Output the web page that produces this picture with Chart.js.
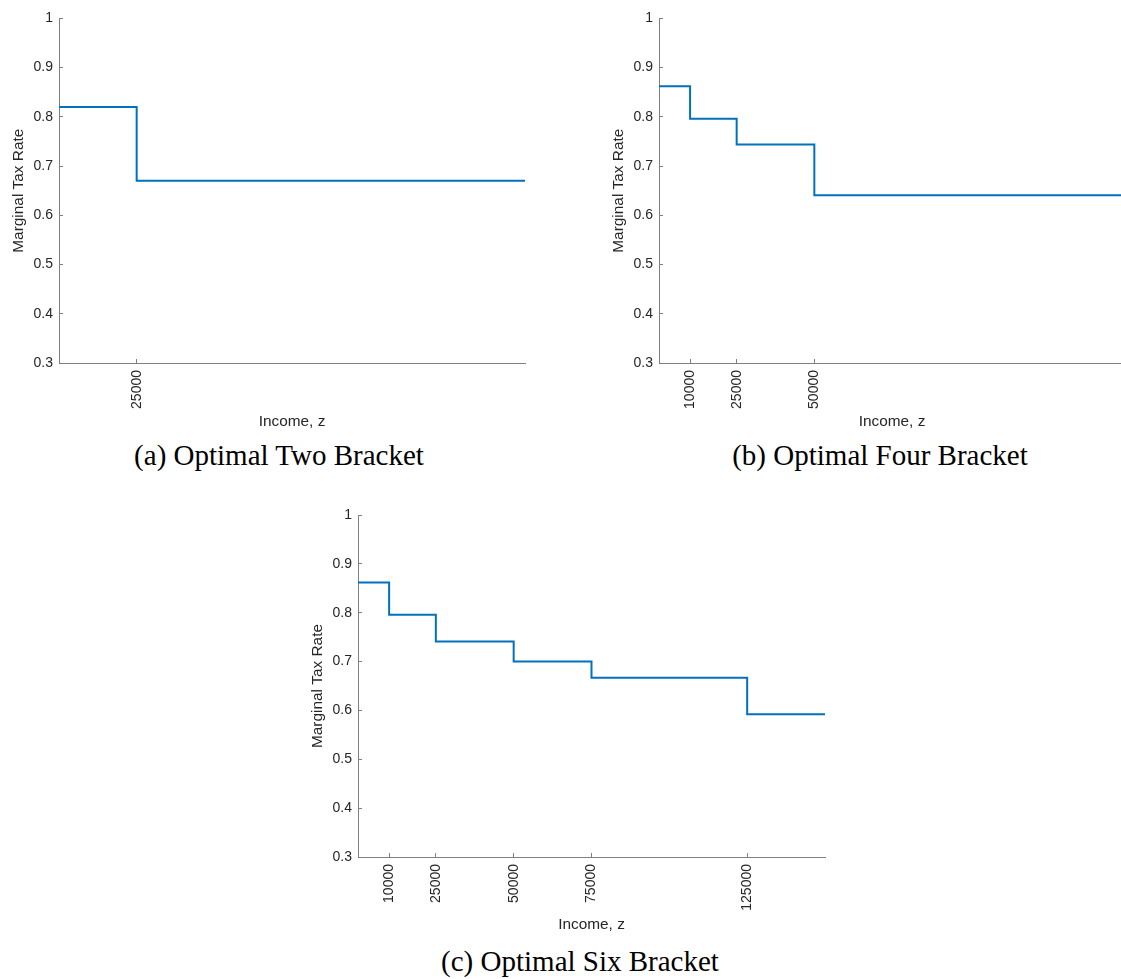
<!DOCTYPE html>
<html>
<head>
<meta charset="utf-8">
<script src="https://cdn.jsdelivr.net/npm/chart.js@4.4.0/dist/chart.umd.min.js"></script>
<style>
  body { margin: 0; background: #fff; overflow: hidden; width: 1121px; height: 979px; position: relative; }
  canvas { position: absolute; }
  .cap { position: absolute; font-family: "Liberation Serif", "Times New Roman", serif; font-size: 29px; line-height: 29px; text-align: center; color: #000; white-space: nowrap; }
</style>
</head>
<body>
<canvas id="twoChart" width="560" height="434" style="left:0px;top:0px"></canvas>
<canvas id="fourChart" width="560" height="434" style="left:600px;top:0px"></canvas>
<canvas id="sixChart" width="561" height="442" style="left:299px;top:495px"></canvas>
<div class="cap" style="left:79px;width:400px;top:441px">(a) Optimal Two Bracket</div>
<div class="cap" style="left:680px;width:400px;top:441px">(b) Optimal Four Bracket</div>
<div class="cap" style="left:380px;width:400px;top:947px">(c) Optimal Six Bracket</div>
<script>
// income range and rate axis
let incomeMax = 150000;
let rateMin = 0.3;
let rateMax = 1;

// bracket start incomes and marginal rates
let twoBreaks = [0, 25000];
let twoRates = [0.82, 0.67];

let fourBreaks = [0, 10000, 25000, 50000];
let fourRates = [0.862, 0.796, 0.744, 0.641];

let sixBreaks = [0, 10000, 25000, 50000, 75000, 125000];
let sixRates = [0.862, 0.796, 0.741, 0.70, 0.667, 0.592];

let lineColor = '#0072BD';
let axisColor = '#808080';
let textColor = '#262626';

function stepPoints(breaks, rates)
  {
    let pts = [];
    for(let i = 0; i < breaks.length; i++)
      {
        pts.push({x: breaks[i], y: rates[i]});
      }
    pts.push({x: incomeMax, y: rates[rates.length-1]});
    return pts;
  }

function drawBrackets(id, breaks, rates, xAxisHeight, padTop)
  {
    let ctx = document.getElementById(id).getContext('2d');
    let tickVals = breaks.filter(b => b > 0);

    return new Chart(ctx, {
      type: 'line',
      data: {
        datasets: [{
          data: stepPoints(breaks, rates),
          // hold each rate until the next bracket starts
          stepped: 'before',
          borderColor: lineColor,
          backgroundColor: lineColor,
          borderWidth: 2,
          pointRadius: 0,
          fill: false
        }]
      },
      options: {
        responsive: false,
        animation: false,
        devicePixelRatio: 1,
        layout: {
          padding: {top: padTop, right: 35, left: 0, bottom: 0}
        },
        plugins: {
          legend: {display: false},
          tooltip: {enabled: false}
        },
        scales: {
          x: {
            type: 'linear',
            position: 'bottom',
            min: 0,
            max: incomeMax,
            afterBuildTicks: function(scale) {
              scale.ticks = tickVals.map(v => ({value: v}));
            },
            afterFit: function(scale) {
              scale.height = xAxisHeight;
            },
            grid: {
              display: true,
              drawOnChartArea: false,
              drawTicks: true,
              tickLength: -4,
              color: axisColor,
              lineWidth: 1
            },
            border: {display: true, color: axisColor, width: 1},
            ticks: {
              autoSkip: false,
              minRotation: 90,
              maxRotation: 90,
              padding: 11,
              color: textColor,
              font: {family: '"Liberation Sans", Arial, sans-serif', size: 14},
              callback: function(v) { return String(v); }
            },
            title: {
              display: true,
              text: 'Income, z',
              color: textColor,
              padding: {top: 2, bottom: 3},
              font: {family: '"Liberation Sans", Arial, sans-serif', size: 15.4}
            }
          },
          y: {
            min: rateMin,
            max: rateMax,
            afterFit: function(scale) {
              scale.width = 59;
            },
            grid: {
              display: true,
              drawOnChartArea: false,
              drawTicks: true,
              tickLength: -4,
              color: axisColor,
              lineWidth: 1
            },
            border: {display: true, color: axisColor, width: 1},
            ticks: {
              stepSize: 0.1,
              padding: 10,
              color: textColor,
              font: {family: '"Liberation Sans", Arial, sans-serif', size: 14},
              callback: function(v) { return String(Number(v.toFixed(1))); }
            },
            title: {
              display: true,
              text: 'Marginal Tax Rate',
              color: textColor,
              padding: {top: 10, bottom: 0},
              font: {family: '"Liberation Sans", Arial, sans-serif', size: 15.4}
            }
          }
        }
      }
    });
  }

let twoLine = drawBrackets('twoChart', twoBreaks, twoRates, 71, 14);
let fourLine = drawBrackets('fourChart', fourBreaks, fourRates, 71, 14);
let sixLine = drawBrackets('sixChart', sixBreaks, sixRates, 80, 20);
</script>
</body>
</html>
